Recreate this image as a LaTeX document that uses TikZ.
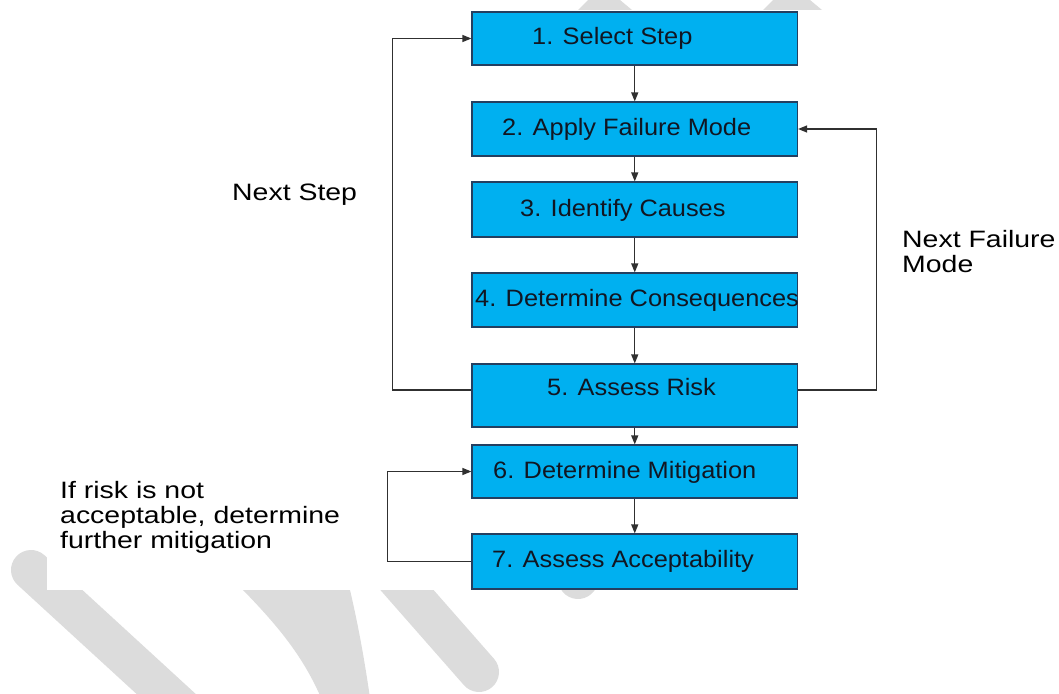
\documentclass[tikz,border=0pt]{standalone}
\usepackage{fontspec}
\usetikzlibrary{arrows.meta}
\newfontfamily\boxfont[FakeStretch=1.07]{Liberation Sans}
\newfontfamily\sidefont[FakeStretch=1.2]{Liberation Sans}
\definecolor{stepfill}{HTML}{00B0F0}
\definecolor{stepedge}{HTML}{243F60}
\definecolor{steptextcol}{HTML}{111622}
\definecolor{linkcol}{HTML}{303030}
\definecolor{wmark}{HTML}{DCDCDC}

\begin{document}
\begin{tikzpicture}[x=1pt,y=-1pt,
  stepbox/.style={draw=stepedge, fill=stepfill, line width=1.2pt,
    minimum width=325.5pt, inner sep=0pt},
  steptext/.style={anchor=base west, inner sep=0pt, text=steptextcol,
    font=\boxfont\fontsize{23.7}{25}\selectfont},
  sidelabel/.style={anchor=base west, inner sep=0pt, align=left,
    font=\sidefont\fontsize{23.7}{25}\selectfont},
  link/.style={draw=linkcol, line width=1.2pt},
  flow/.style={link, -{Triangle[length=9pt,width=7pt]}},
  band/.style={draw=wmark, line width=40pt, line cap=round}]

\useasboundingbox (0,0) rectangle (1059,693);

% faint background bands, covered by the white sheet
\begin{scope}
  \clip (0,0) rectangle (1059,693);
  \draw[band] (31,570) -- (200,725);
  \fill[wmark] (228,572) -- (243,590) .. controls (280,628) and (306,660) .. (324,705)
    -- (371,705) .. controls (364,655) and (357,620) .. (350,590) -- (346,572) -- cycle;
  \draw[band] (385,565) -- (479,672);
  \draw[band] (578,579) -- (640,500);
  \fill[wmark] (578,10) -- (588,0) -- (620,0) -- (632,10) -- cycle;
  \fill[wmark] (763,10) -- (773,0) -- (810,0) -- (822,10) -- cycle;
  \fill[white] (47,10) rectangle (1059,590);
\end{scope}

% process steps
\node[stepbox, minimum height=53pt] (s1) at (634.75,38.5) {};
\node[stepbox, minimum height=54pt] (s2) at (634.75,129) {};
\node[stepbox, minimum height=55pt] (s3) at (634.75,209.5) {};
\node[stepbox, minimum height=54pt] (s4) at (634.75,300) {};
\node[stepbox, minimum height=63pt] (s5) at (634.75,395.5) {};
\node[stepbox, minimum height=53pt] (s6) at (634.75,471.5) {};
\node[stepbox, minimum height=55pt] (s7) at (634.75,561.5) {};

\node[steptext] (t1) at (532,45)    {1. Select Step};
\node[steptext] (t2) at (502,135)   {2. Apply Failure Mode};
\node[steptext] (t3) at (520,216.7) {3. Identify Causes};
\node[steptext] (t4) at (475,306)   {4. Determine Consequences};
\node[steptext] (t5) at (547,395.7) {5. Assess Risk};
\node[steptext] (t6) at (493,478.3) {6. Determine Mitigation};
\node[steptext] (t7) at (492,567.7) {7. Assess Acceptability};

% main flow
\draw[flow] (s1) -- (s2);
\draw[flow] (s2) -- (s3);
\draw[flow] (s3) -- (s4);
\draw[flow] (s4) -- (s5);
\draw[flow] (s5) -- (s6);
\draw[flow] (s6) -- (s7);

% feedback loops
\draw[flow] ([yshift=5.5pt]s5.west) -- ++(-79,0) |- (s1.west);
\draw[flow] ([yshift=5.5pt]s5.east) -- ++(78.5,0) |- (s2.east);
\draw[flow] (s7.west) -- ++(-84,0) |- (s6.west);

% loop labels (anchored on the baseline of their last line)
\node[sidelabel] (lstep) at (232,200) {Next Step};
\node[sidelabel] (lfail) at (902,272) {Next Failure\\Mode};
\node[sidelabel] (lrisk) at (60,548) {If risk is not\\acceptable, determine\\further mitigation};
\end{tikzpicture}
\end{document}
